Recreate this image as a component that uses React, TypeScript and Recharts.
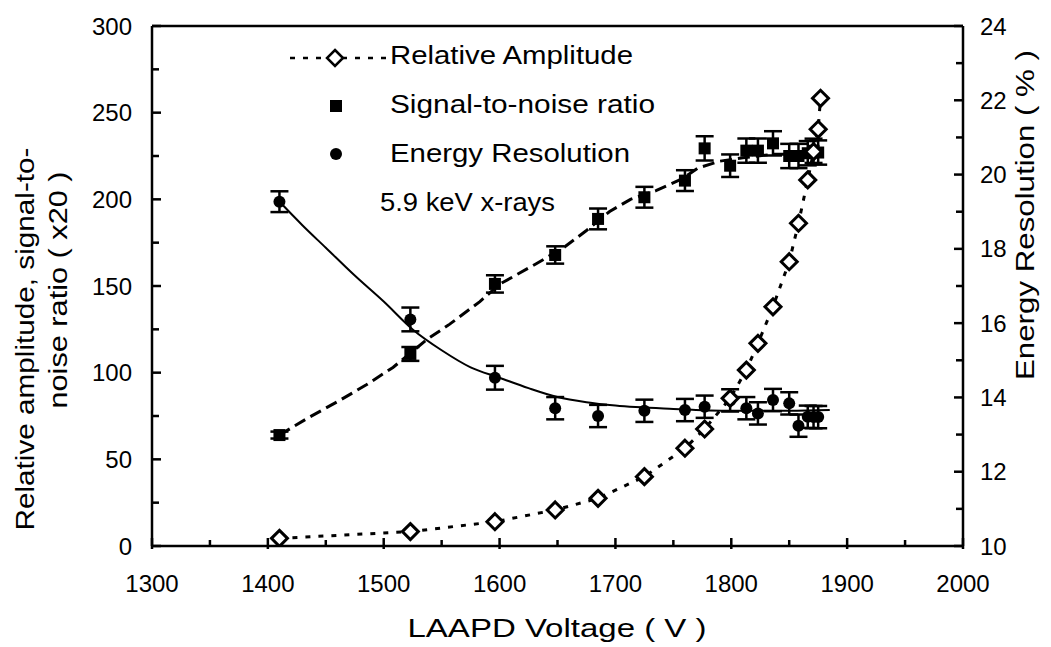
import { ComposedChart, Line, Scatter, XAxis, YAxis, ErrorBar, ReferenceLine, Customized } from "recharts";

const FONT = "'Liberation Sans', Arial, sans-serif";

// tick positions
const voltageTicks = [1300, 1350, 1400, 1450, 1500, 1550, 1600, 1650, 1700, 1750, 1800, 1850, 1900, 1950, 2000];
const leftTicks = [0, 25, 50, 75, 100, 125, 150, 175, 200, 225, 250, 275, 300];
const rightTicks = [10, 11, 12, 13, 14, 15, 16, 17, 18, 19, 20, 21, 22, 23, 24];

// relative amplitude (open diamonds)
const ampVoltage = [1410, 1523, 1596, 1648, 1685, 1725, 1760, 1777, 1799, 1813, 1823, 1836, 1850, 1858, 1866, 1871, 1875, 1877];
const ampValue = [4.4, 8.3, 14, 20.8, 27.5, 40, 56.4, 67.5, 85.2, 101.5, 116.9, 138, 164, 186.2, 211.2, 227.5, 240.4, 258.3];

// signal-to-noise ratio (x20)
const snrVoltage = [1410, 1523, 1596, 1648, 1685, 1725, 1760, 1777, 1799, 1813, 1823, 1836, 1850, 1858, 1866, 1871, 1875];
const snrValue = [64, 110.8, 151.2, 167.9, 188.7, 201.2, 210.8, 229.4, 219.4, 228.1, 228.1, 232.3, 225, 225, 226.6, 228, 227];
const snrError = [2, 4, 5, 5, 6, 6, 6, 7, 6.5, 7, 7, 7, 7, 7, 7, 7, 7];

// dashed guide through the S/N points
const snrFitVoltage = [1410, 1435, 1462, 1485, 1508, 1537, 1557, 1583, 1600, 1632, 1655, 1675, 1695, 1713, 1735, 1758, 1771, 1790, 1810, 1836, 1880];
const snrFitValue = [64, 74, 84, 93, 103, 119, 128, 141, 151, 163, 172, 182, 193, 200, 205, 212, 218, 222, 224, 226, 226];

// energy resolution (%)
const erVoltage = [1410, 1523, 1596, 1648, 1685, 1725, 1760, 1777, 1799, 1813, 1823, 1836, 1850, 1858, 1866, 1871, 1875];
const erValue = [19.27, 16.1, 14.53, 13.71, 13.5, 13.64, 13.66, 13.75, 13.92, 13.71, 13.57, 13.93, 13.84, 13.24, 13.48, 13.47, 13.47];
const erError = [0.28, 0.32, 0.32, 0.3, 0.3, 0.3, 0.3, 0.3, 0.3, 0.3, 0.3, 0.3, 0.3, 0.3, 0.3, 0.3, 0.3];

// solid fit through the resolution points
const erFitVoltage = [1410, 1430, 1450, 1475, 1500, 1525, 1550, 1575, 1600, 1625, 1650, 1675, 1700, 1750, 1800, 1850, 1885];
const erFitValue = [19.27, 18.63, 18.03, 17.28, 16.58, 15.83, 15.27, 14.81, 14.53, 14.25, 14.01, 13.87, 13.78, 13.69, 13.64, 13.64, 13.66];

const ampData = ampVoltage.map((v, i) => ({ v, y: ampValue[i] }));
const snrData = snrVoltage.map((v, i) => ({ v, y: snrValue[i], err: snrError[i] }));
const snrFit = snrFitVoltage.map((v, i) => ({ v, y: snrFitValue[i] }));
const erData = erVoltage.map((v, i) => ({ v, y: erValue[i], err: erError[i] }));
const erFit = erFitVoltage.map((v, i) => ({ v, y: erFitValue[i] }));

const LeftTick = (p: any) => {
  const v = p.payload.value;
  const major = v % 50 === 0;
  return (
    <g>
      <line x1={p.x} x2={p.x + (major ? 9 : 7)} y1={p.y} y2={p.y} stroke="#000" strokeWidth={2.5} />
      {major && (
        <text x={p.x - 20} y={p.y + 8.5} textAnchor="end" fontSize={24} fontFamily={FONT} fill="#000">
          {v}
        </text>
      )}
    </g>
  );
};

const RightTick = (p: any) => {
  const v = p.payload.value;
  const major = v % 2 === 0;
  return (
    <g>
      <line x1={p.x} x2={p.x - (major ? 9 : 7)} y1={p.y} y2={p.y} stroke="#000" strokeWidth={2.5} />
      {major && (
        <text x={p.x + 17} y={p.y + 8.5} textAnchor="start" fontSize={24} fontFamily={FONT} fill="#000">
          {v}
        </text>
      )}
    </g>
  );
};

const BottomTick = (p: any) => {
  const v = p.payload.value;
  const major = v % 100 === 0;
  return (
    <g>
      <line x1={p.x} x2={p.x} y1={p.y + (major ? 3 : 0)} y2={p.y - (major ? 8 : 6)} stroke="#000" strokeWidth={2.5} />
      {major && (
        <text x={p.x} y={p.y + 46} textAnchor="middle" fontSize={24} fontFamily={FONT} fill="#000">
          {v}
        </text>
      )}
    </g>
  );
};

const Diamond = (p: any) => (
  <path
    key={`d-${p.index}`}
    d={`M${p.cx} ${p.cy - 8} L${p.cx + 8} ${p.cy} L${p.cx} ${p.cy + 8} L${p.cx - 8} ${p.cy} Z`}
    fill="#fff"
    stroke="#000"
    strokeWidth={3}
  />
);

const Square = (p: any) => <rect x={p.cx - 6} y={p.cy - 6} width={12} height={12} fill="#000" />;
const Dot = (p: any) => <circle cx={p.cx} cy={p.cy} r={6} fill="#000" />;

const Annotations = () => (
  <g fontFamily={FONT} fontSize={26} fill="#000">
    <line x1={290} x2={386} y1={58} y2={58} stroke="#000" strokeWidth={2.5} strokeDasharray="5 8" />
    <path d="M335 50 L343 58 L335 66 L327 58 Z" fill="#fff" stroke="#000" strokeWidth={2.5} />
    <text x={390} y={64} textLength={243} lengthAdjust="spacingAndGlyphs">Relative Amplitude</text>
    <rect x={330} y={100} width={12} height={12} fill="#000" />
    <text x={390} y={113} textLength={265} lengthAdjust="spacingAndGlyphs">Signal-to-noise ratio</text>
    <circle cx={336} cy={154} r={6} fill="#000" />
    <text x={390} y={162} textLength={240} lengthAdjust="spacingAndGlyphs">Energy Resolution</text>
    <text x={380} y={211} textLength={175} lengthAdjust="spacingAndGlyphs">5.9 keV x-rays</text>
    <text x={557} y={637} textAnchor="middle" textLength={299} lengthAdjust="spacingAndGlyphs">LAAPD Voltage ( V )</text>
    <text transform="translate(34 339) rotate(-90)" textAnchor="middle" textLength={383} lengthAdjust="spacingAndGlyphs">
      Relative amplitude, signal-to-
    </text>
    <text transform="translate(67 290) rotate(-90)" textAnchor="middle" textLength={237} lengthAdjust="spacingAndGlyphs">
      noise ratio ( x20 )
    </text>
    <text transform="translate(1034 215) rotate(-90)" textAnchor="middle" textLength={330} lengthAdjust="spacingAndGlyphs">
      Energy Resolution ( % )
    </text>
  </g>
);

export default function App() {
  return (
    <div style={{ position: "absolute", left: 0, top: 0, width: 1051, height: 647, background: "#fff" }}>
      <ComposedChart width={1051} height={647} margin={{ top: 26, right: 0, bottom: 0, left: 0 }}>
        <XAxis
          xAxisId="x"
          type="number"
          dataKey="v"
          domain={[1300, 2000]}
          ticks={voltageTicks}
          interval={0}
          height={101}
          tickLine={false}
          tickSize={0}
          tickMargin={0}
          axisLine={{ stroke: "#000", strokeWidth: 2.5 }}
          tick={(p: any) => <BottomTick {...p} />}
          allowDataOverflow
        />
        <YAxis
          yAxisId="left"
          type="number"
          dataKey="y"
          domain={[0, 300]}
          ticks={leftTicks}
          interval={0}
          width={152}
          tickLine={false}
          tickSize={0}
          tickMargin={0}
          axisLine={{ stroke: "#000", strokeWidth: 2.5 }}
          tick={(p: any) => <LeftTick {...p} />}
          allowDataOverflow
        />
        <YAxis
          yAxisId="right"
          orientation="right"
          type="number"
          dataKey="y"
          domain={[10, 24]}
          ticks={rightTicks}
          interval={0}
          width={88}
          tickLine={false}
          tickSize={0}
          tickMargin={0}
          axisLine={{ stroke: "#000", strokeWidth: 2.5 }}
          tick={(p: any) => <RightTick {...p} />}
          allowDataOverflow
        />
        <ReferenceLine xAxisId="x" yAxisId="left" y={300} stroke="#000" strokeWidth={2.5} />
        <Line
          xAxisId="x"
          yAxisId="right"
          data={erFit}
          dataKey="y"
          type="monotone"
          stroke="#000"
          strokeWidth={2}
          dot={false}
          isAnimationActive={false}
        />
        <Line
          xAxisId="x"
          yAxisId="left"
          data={snrFit}
          dataKey="y"
          type="linear"
          stroke="#000"
          strokeWidth={3}
          strokeDasharray="12 6"
          dot={false}
          isAnimationActive={false}
        />
        <Scatter xAxisId="x" yAxisId="left" data={snrData} dataKey="y" shape={Square} isAnimationActive={false}>
          <ErrorBar dataKey="err" direction="y" width={9} stroke="#000" strokeWidth={2.5} isAnimationActive={false} />
        </Scatter>
        <Scatter xAxisId="x" yAxisId="right" data={erData} dataKey="y" shape={Dot} isAnimationActive={false}>
          <ErrorBar dataKey="err" direction="y" width={9} stroke="#000" strokeWidth={2.5} isAnimationActive={false} />
        </Scatter>
        <Line
          xAxisId="x"
          yAxisId="left"
          data={ampData}
          dataKey="y"
          type="linear"
          stroke="#000"
          strokeWidth={3}
          strokeDasharray="5 8"
          dot={Diamond}
          activeDot={false}
          isAnimationActive={false}
        />
        <Customized component={Annotations} />
      </ComposedChart>
    </div>
  );
}
